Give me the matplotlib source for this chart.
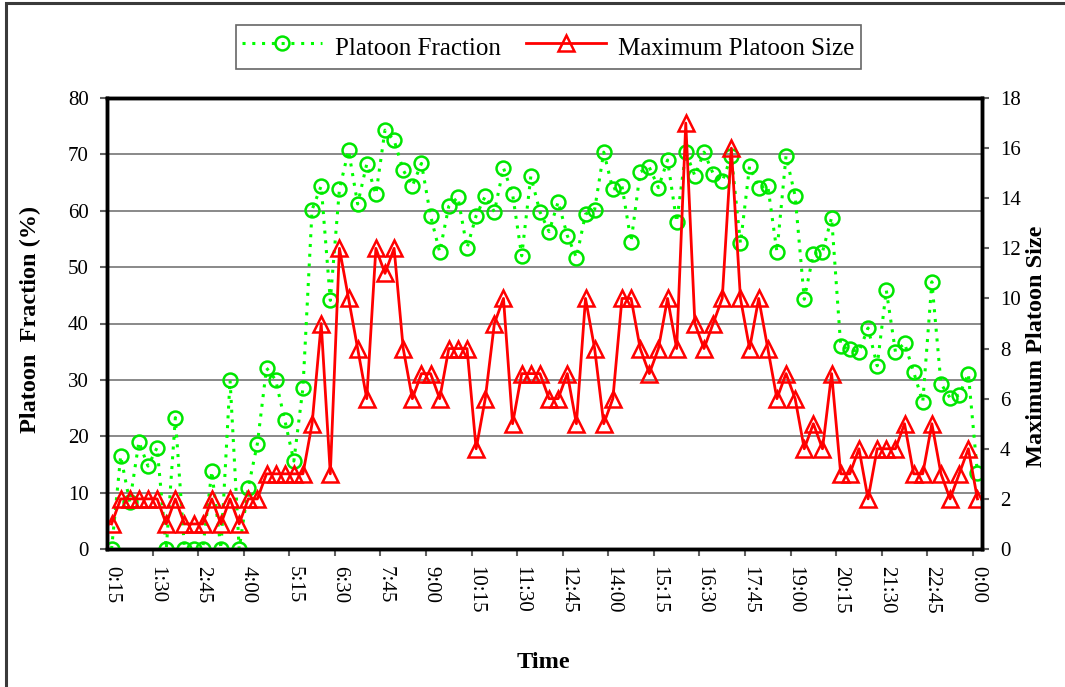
import matplotlib
matplotlib.use('Agg')
import matplotlib.pyplot as plt
from matplotlib.patches import Rectangle

# ---------------- data ----------------
times = [f"{(15 * (i + 1) // 60) % 24}:{(15 * (i + 1)) % 60:02d}" for i in range(96)]

platoon_fraction = [
    0, 16.5, 8.3, 19.0, 14.7, 18.0, 0, 23.3, 0, 0,
    0, 13.8, 0, 30.0, 0, 10.9, 18.7, 32.1, 30.0, 22.9,
    15.6, 28.6, 60.2, 64.4, 44.1, 63.8, 70.7, 61.2, 68.3, 62.9,
    74.3, 72.5, 67.2, 64.4, 68.4, 59.1, 52.7, 60.8, 62.4, 53.4,
    59.1, 62.6, 59.8, 67.6, 62.9, 52.0, 66.1, 59.8, 56.3, 61.6,
    55.6, 51.7, 59.4, 60.2, 70.4, 63.8, 64.4, 54.5, 66.9, 67.7,
    64.1, 69.0, 58.0, 70.4, 66.2, 70.4, 66.6, 65.2, 69.7, 54.2,
    67.9, 64.1, 64.4, 52.7, 69.7, 62.6, 44.3, 52.4, 52.7, 58.8,
    36.0, 35.4, 35.0, 39.2, 32.5, 45.9, 35.0, 36.5, 31.4, 26.1,
    47.4, 29.3, 26.8, 27.3, 31.1, 13.4,
]

max_platoon_size = [
    1, 2, 2, 2, 2, 2, 1, 2, 1, 1,
    1, 2, 1, 2, 1, 2, 2, 3, 3, 3,
    3, 3, 5, 9, 3, 12, 10, 8, 6, 12,
    11, 12, 8, 6, 7, 7, 6, 8, 8, 8,
    4, 6, 9, 10, 5, 7, 7, 7, 6, 6,
    7, 5, 10, 8, 5, 6, 10, 10, 8, 7,
    8, 10, 8, 17, 9, 8, 9, 10, 16, 10,
    8, 10, 8, 6, 7, 6, 4, 5, 4, 7,
    3, 3, 4, 2, 4, 4, 4, 5, 3, 3,
    5, 3, 2, 3, 4, 2,
]

tick_labels = ["0:15", "1:30", "2:45", "4:00", "5:15", "6:30", "7:45", "9:00",
               "10:15", "11:30", "12:45", "14:00", "15:15", "16:30", "17:45",
               "19:00", "20:15", "21:30", "22:45", "0:00"]

left_ticks = [0, 10, 20, 30, 40, 50, 60, 70, 80]
right_ticks = [0, 2, 4, 6, 8, 10, 12, 14, 16, 18]

# ---------------- figure ----------------
plt.rcParams['font.family'] = ['Liberation Serif', 'DejaVu Serif']

W, H = 1065, 687
fig = plt.figure(figsize=(W / 100, H / 100), dpi=100)
fig.patch.set_facecolor('white')

# outer chart border (clipped at right/bottom)
fig.add_artist(Rectangle((6 / W, -0.5), 2.0, (1 - 3 / H) + 0.5,
                         transform=fig.transFigure, fill=False,
                         ec='#3a3a3a', lw=2.2))

ax = fig.add_axes([107 / W, 1 - 549 / H, (982 - 107) / W, (549 - 98) / H])
xs = list(range(len(times)))

l1, = ax.plot(xs, platoon_fraction, color='#00FF00', ls=(0, (1, 2.2)), lw=2.2,
              marker='o', ms=10, mfc='none', mec='#00E600', mew=1.8,
              label='Platoon Fraction', zorder=3)
ax.set_xlim(-0.5, len(times) - 0.5)
ax.set_ylim(0, 80)
ax.set_yticks(left_ticks)
ax.set_yticklabels([str(v) for v in left_ticks])
ax.yaxis.grid(True, color='#808080', lw=1.3)
ax.set_axisbelow(True)

label_pos = [times.index(t) if i < len(tick_labels) - 1 else len(times) - 1
             for i, t in enumerate(tick_labels)]
ax.set_xticks(label_pos)
ax.set_xticklabels(tick_labels, rotation=-90, va='top', ha='center', fontsize=15)
ax.set_xticks([p + 4.5 for p in range(0, 95, 5)], minor=True)
ax.tick_params(axis='x', which='major', length=0, pad=12)
ax.tick_params(axis='x', which='minor', direction='out', length=5, width=1.5,
               color='#606060')
ax.tick_params(axis='y', direction='out', length=5, width=1.5, color='#606060',
               labelsize=15, pad=8)

ax2 = ax.twinx()
l2, = ax2.plot(xs, max_platoon_size, color='#FF0000', lw=2, marker='^', ms=11,
               mfc='none', mec='#FF0000', mew=1.8, label='Maximum Platoon Size')
ax2.set_ylim(0, 18)
ax2.set_yticks(right_ticks)
ax2.set_yticklabels([str(v) for v in right_ticks])
ax2.tick_params(axis='y', direction='out', length=5, width=1.5, color='#606060',
                labelsize=15, pad=8)

for a in (ax, ax2):
    for s in a.spines.values():
        s.set_linewidth(2.5)
        s.set_color('black')

# axis titles
fig.text(30 / W, 1 - 319 / H, 'Platoon  Fraction (%)', rotation=90,
         ha='center', va='center', fontsize=17.5, fontweight='bold')
fig.text(1037 / W, 1 - 346 / H, 'Maximum Platoon Size', rotation=90,
         ha='center', va='center', fontsize=17.5, fontweight='bold')
fig.text(543 / W, 1 - 663 / H, 'Time', ha='center', va='center',
         fontsize=17.5, fontweight='bold')

leg = fig.legend(handles=[l1, l2], loc='center', ncol=2,
                 bbox_to_anchor=(548.5 / W, 1 - 47 / H), fontsize=18,
                 frameon=True, fancybox=False, shadow=False, edgecolor='#404040',
                 handlelength=3.2, handletextpad=0.5, columnspacing=1.0,
                 borderpad=0.25, handleheight=1.6, numpoints=1)
leg.get_frame().set_linewidth(1.2)

fig.savefig('out.png', dpi=100)
